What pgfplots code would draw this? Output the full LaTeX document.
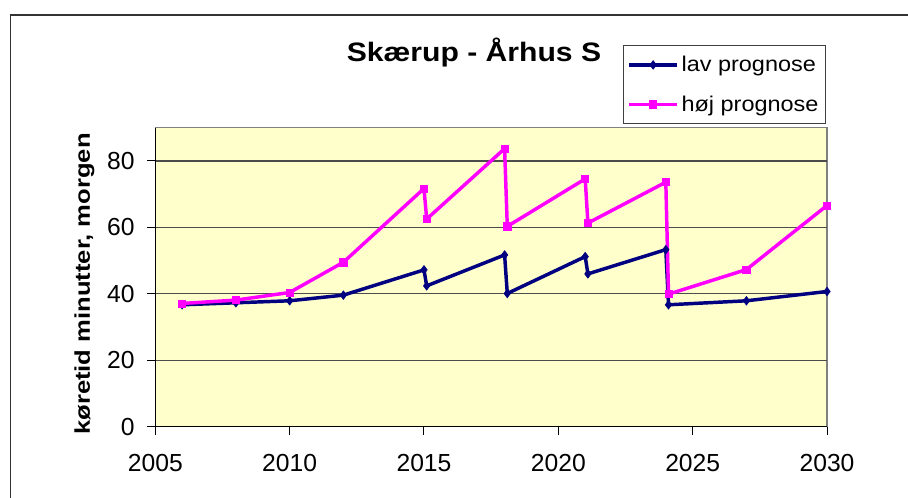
\documentclass[border=0pt]{standalone}
\usepackage{pgfplots}
\pgfplotsset{compat=1.18}
\usepackage{fontspec}
\setmainfont{Liberation Sans}
\newfontfamily\ylabfont[FakeStretch=1.2]{Liberation Sans}
\newfontfamily\titlefont[FakeStretch=1.13]{Liberation Sans}
\newfontfamily\legfont[FakeStretch=1.1]{Liberation Sans}
\definecolor{lavcol}{RGB}{0,0,128}
\definecolor{hojcol}{RGB}{255,0,255}
\definecolor{bgyellow}{RGB}{255,255,204}
\pgfplotstableread{
x y
2006 36.7
2008 37.3
2010 37.9
2012 39.6
2015 47.2
2015.1 42.4
2018 51.7
2018.1 40.1
2021 51.2
2021.1 46.0
2024 53.3
2024.1 36.7
2027 37.9
2030 40.7
}\lavdata
\pgfplotstableread{
x y
2006 37.1
2008 38.1
2010 40.4
2012 49.5
2015 71.7
2015.1 62.5
2018 83.7
2018.1 60.3
2021 74.6
2021.1 61.3
2024 73.6
2024.1 39.9
2027 47.3
2030 66.6
}\hojdata
\begin{document}
\begin{tikzpicture}[x=0.75pt,y=0.75pt]
\begin{axis}[
  at={(116.475pt,52.725pt)}, anchor=south west,
  scale only axis, width=503.8pt, height=224.25pt,
  xmin=2005, xmax=2030, ymin=0, ymax=90,
  xtick={2005,2010,...,2030}, ytick={0,20,...,80},
  axis lines*=left,
  axis line style={-, black, line width=0.75pt},
  axis background/.style={fill=bgyellow, draw=black!50, line width=1pt},
  tick align=outside, major tick length=6pt,
  tick style={black, line width=0.75pt},
  ymajorgrids, grid style={black!70, line width=0.9pt},
  /pgf/number format/1000 sep={},
  /pgf/number format/assume math mode=true,
  ticklabel style={font=\fontsize{18.5}{21}\selectfont},
  xticklabel style={yshift=-11pt},
  yticklabel style={xshift=-6pt},
  legend style={at={(0.998,1.2766)}, anchor=north east, draw=black!75, line width=0.75pt,
    font=\legfont\fontsize{16}{19}\selectfont, inner xsep=3pt, inner ysep=6pt,
    row sep=12.5pt, nodes={inner sep=2pt}},
  legend cell align=left,
  legend image code/.code={\draw[mark repeat=2,mark phase=2,#1] plot coordinates {(0pt,0pt)(18pt,0pt)(36pt,0pt)};},
]
\addplot[lavcol, line width=2.6pt, mark=diamond*, mark size=3.2pt, mark options={line width=0.5pt}] table {\lavdata};
\addlegendentry{lav prognose}
\addplot[hojcol, line width=2.6pt, mark=square*, mark size=2.7pt, mark options={line width=0.5pt}] table {\hojdata};
\addlegendentry{høj prognose}
\end{axis}
\node[anchor=base, font=\titlefont\bfseries\fontsize{20}{24}\selectfont] at (474,435.3) {Skærup - Århus S};
\node[anchor=base, rotate=90, font=\ylabfont\bfseries\fontsize{16}{19}\selectfont] at (90,213) {køretid minutter, morgen};
\draw[black!80, line width=0.9pt] (10.3,-2) -- (10.3,482) -- (910,482);
\pgfresetboundingbox
\path[use as bounding box] (0,0) rectangle (908,497);
\end{tikzpicture}
\end{document}
